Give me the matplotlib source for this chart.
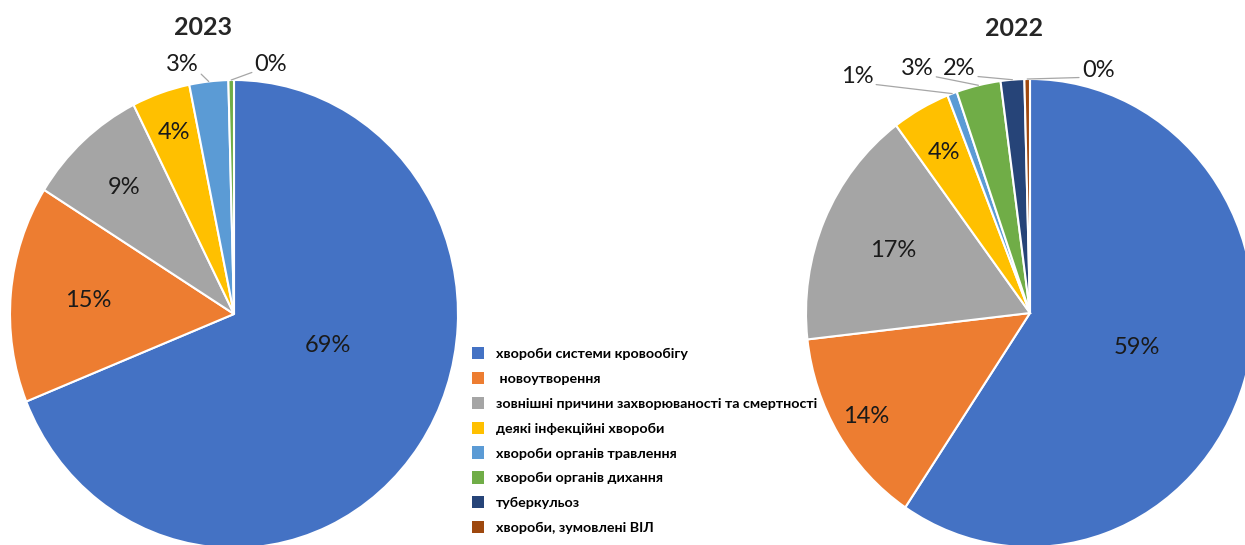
import matplotlib.pyplot as plt
import numpy as np

plt.rcParams['font.family'] = ['Lato', 'Open Sans', 'DejaVu Sans']

# categories (legend order) and colours
causes = ['хвороби системи кровообігу', ' новоутворення',
          'зовнішні причини захворюваності та смертності',
          'деякі інфекційні хвороби', 'хвороби органів травлення',
          'хвороби органів дихання', 'туберкульоз', 'хвороби, зумовлені ВІЛ']
colors = ['#4472C4', '#ED7D31', '#A5A5A5', '#FFC000',
          '#5B9BD5', '#70AD47', '#264478', '#9E480E']

# shares, %
share_2023 = [68.9, 15.0, 8.7, 4.2, 2.8, 0.4]
share_2022 = [59.4, 13.8, 16.6, 4.2, 0.7, 3.2, 1.7, 0.4]

W, H = 1245, 545
RX, RY = 224, 234   # the source picture is slightly squeezed sideways

fig = plt.figure(figsize=(W / 100, H / 100), dpi=100)


def pie_axes(cx, cy):
    return fig.add_axes([(cx - RX) / W, (H - cy - RY) / H, 2 * RX / W, 2 * RY / H])


def draw_pie(ax, values, title, title_xy, inside, outside, shift={}):
    wedges, _ = ax.pie(values, colors=colors[:len(values)], startangle=90,
                       counterclock=False, radius=1,
                       wedgeprops=dict(edgecolor='white', linewidth=1.5))
    ax.set_aspect('auto')
    ax.set_xlim(-1, 1)
    ax.set_ylim(-1, 1)
    for i, (w, v) in enumerate(zip(wedges, values)):
        mid = np.deg2rad((w.theta1 + w.theta2) / 2)
        txt = '%.0f%%' % v
        if i in outside:
            tx, ty, rx = outside[i]
            ax.annotate(txt, xy=(np.cos(mid), np.sin(mid)), xytext=(tx, ty),
                        ha='center', va='center', fontsize=17, color='#1a1a1a',
                        annotation_clip=False,
                        arrowprops=dict(arrowstyle='-', color='#a6a6a6', lw=0.9,
                                        relpos=(rx, 0.15), shrinkA=0, shrinkB=0))
        else:
            a = mid + np.deg2rad(shift.get(i, 0))
            r = inside[i]
            ax.text(r * np.cos(a), r * np.sin(a), txt, ha='center', va='center',
                    fontsize=17, color='#1a1a1a')
    ax.text(title_xy[0], title_xy[1], title, ha='center', va='center',
            fontsize=18, fontweight='bold', color='#262626', clip_on=False)
    return wedges


ax1 = pie_axes(234, 314)
draw_pie(ax1, share_2023, '2023', (-0.138, 1.226),
         inside={0: 0.44, 1: 0.655, 2: 0.731, 3: 0.822},
         outside={4: (-0.232, 1.068, 1.0), 5: (0.165, 1.068, 0.0)},
         shift={0: 16})

ax2 = pie_axes(1030, 313)
w22 = draw_pie(ax2, share_2022, '2022', (-0.071, 1.214),
               inside={0: 0.50, 1: 0.855, 2: 0.668, 3: 0.786},
               outside={4: (-0.772, 1.009, 1.0), 5: (-0.504, 1.043, 1.0),
                        6: (-0.317, 1.043, 1.0), 7: (0.304, 1.038, 0.0)})

# legend handles: plain squares in the slice colours
handles = [plt.Rectangle((0, 0), 1, 1, facecolor=c, edgecolor='none') for c in colors]
fig.legend(handles, causes, loc='upper left', bbox_to_anchor=(465 / W, 1 - 340 / H),
           frameon=False, borderpad=0, handlelength=0.85, handleheight=0.95,
           handletextpad=0.8, labelspacing=0.82,
           prop=dict(weight='bold', size=10.3))

fig.savefig('out.png', dpi=100)
